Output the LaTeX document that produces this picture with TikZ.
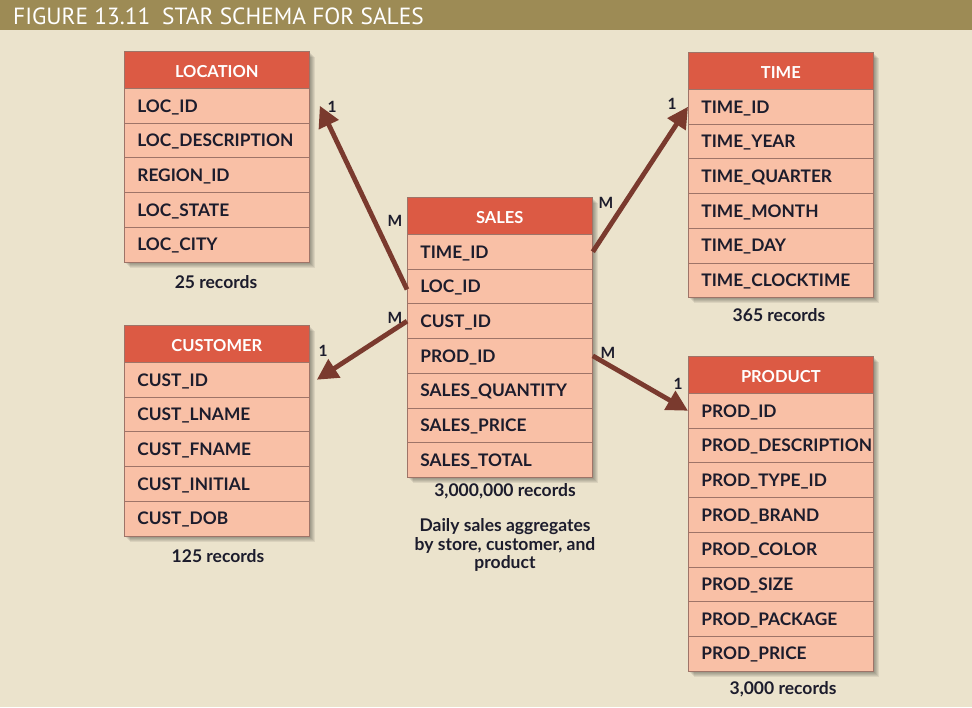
\documentclass[tikz,border=0pt]{standalone}
\usepackage{fontspec}
\setmainfont{Lato}
\newfontfamily\titlefont{PT Sans}
\usetikzlibrary{arrows.meta,calc}
\definecolor{bgc}{HTML}{EBE3CC}
\definecolor{barc}{HTML}{9D8B55}
\definecolor{hdrc}{HTML}{DC5A44}
\definecolor{rowc}{HTML}{F9C0A6}
\definecolor{sepc}{HTML}{9E7468}
\definecolor{txtc}{HTML}{1C1C2C}
\definecolor{arrc}{HTML}{7A3A2E}
\newcommand\tblfont{\fontsize{17.3}{19}\selectfont\bfseries}
\tikzset{
  hdr/.style={fill=hdrc, draw=sepc, line width=0.6pt, minimum width=185pt, minimum height=37pt,
    inner sep=0pt, text=white, font=\fontsize{16.5}{18}\selectfont\bfseries, text height=15pt, text depth=0pt},
  rowb/.style={fill=rowc, draw=sepc, line width=0.8pt, minimum height=34.7pt, text width=159pt,
    inner xsep=13pt, inner ysep=0pt, align=left, text=txtc, font=\tblfont, text height=12.5pt, text depth=0pt},
  rec/.style={text=txtc, font=\fontsize{17.5}{19}\selectfont\bfseries},
  card/.style={text=txtc, font=\fontsize{15.5}{17}\selectfont\bfseries, inner sep=0pt},
  arr/.style={draw=arrc, line width=4.8pt, -{Triangle[length=21pt,width=21pt]}, fill=arrc},
}
% #1 name, #2 x, #3 ytop, #4 nrows, #5 header, #6 rows
\newcommand\dbtable[6]{%
  \foreach \k in {1,...,6}{%
    \fill[black, opacity=0.07] ({#2+\k},{#3+\k}) rectangle ({#2+185+\k},{#3+37+#4*34.7+\k});
  }%
  \node[hdr, anchor=north west] (#1-h) at (#2,#3) {#5};
  \foreach \r [count=\i] in {#6}{%
    \node[rowb, anchor=north west] (#1-\i) at ({#2},{#3+37+(\i-1)*34.7}) {\r};
  }%
}
\begin{document}
\begin{tikzpicture}[x=1pt,y=-1pt]
\useasboundingbox (0,0) rectangle (972,707);
\fill[bgc] (0,0) rectangle (972,707);
\fill[barc] (0,0) rectangle (972,30);
\node[anchor=west, text=white, inner sep=0pt, font=\titlefont\fontsize{23.4}{24}\selectfont] (title) at (13,16) {FIGURE 13.11\enspace STAR SCHEMA FOR SALES};

\dbtable{loc}{124}{51}{5}{LOCATION}{LOC\_ID,LOC\_DESCRIPTION,REGION\_ID,LOC\_STATE,LOC\_CITY}
\dbtable{time}{688}{52}{6}{TIME}{TIME\_ID,TIME\_YEAR,TIME\_QUARTER,TIME\_MONTH,TIME\_DAY,TIME\_CLOCKTIME}
\dbtable{sales}{407}{197}{7}{SALES}{TIME\_ID,LOC\_ID,CUST\_ID,PROD\_ID,SALES\_QUANTITY,SALES\_PRICE,SALES\_TOTAL}
\dbtable{cust}{124}{325}{5}{CUSTOMER}{CUST\_ID,CUST\_LNAME,CUST\_FNAME,CUST\_INITIAL,CUST\_DOB}
\dbtable{prod}{688}{356}{8}{PRODUCT}{PROD\_ID,PROD\_DESCRIPTION,PROD\_TYPE\_ID,PROD\_BRAND,PROD\_COLOR,PROD\_SIZE,PROD\_PACKAGE,PROD\_PRICE}

\node[rec] (locrec) at (216,282) {25 records};
\node[rec] (timerec) at (779,315) {365 records};
\node[rec] (salesrec) at (505,491) {3,000,000 records};
\node[rec] (custrec) at (218,556) {125 records};
\node[rec] (prodrec) at (783,689) {3,000 records};
\node[rec, align=center, font=\fontsize{17.5}{18.8}\selectfont\bfseries] (desc) at (505,545)
  {Daily sales aggregates\\by store, customer, and\\product};

\draw[arr] ([yshift=-3pt]sales-2.west) -- ([xshift=10pt]loc-1.east);
\draw[arr] (sales-1.east) -- (time-1.west);
\draw[arr] (sales-3.west) -- ([xshift=7pt]cust-1.east);
\draw[arr] (sales-4.east) -- (prod-1.west);

\node[card] (l1) at (332,107) {1};
\node[card] (lm) at (395,221) {M};
\node[card] (t1) at (672,104) {1};
\node[card] (tm) at (606,203) {M};
\node[card] (c1) at (323,351) {1};
\node[card] (cm) at (395,318) {M};
\node[card] (p1) at (678,384) {1};
\node[card] (pm) at (608,353) {M};
\end{tikzpicture}
\end{document}
